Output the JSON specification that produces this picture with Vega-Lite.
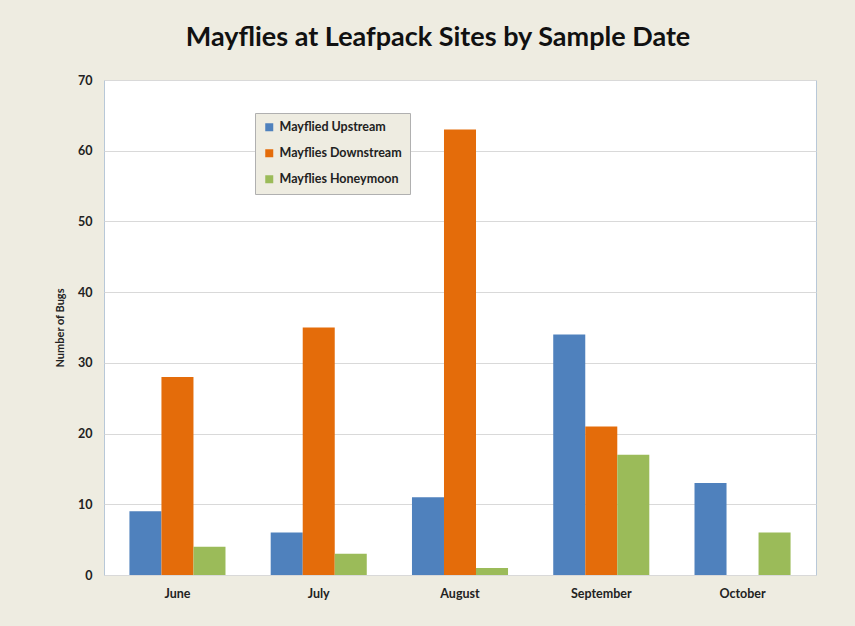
{
  "$schema": "https://vega.github.io/schema/vega-lite/v6.json",
  "autosize": {"type": "none"},
  "width": 712,
  "height": 495,
  "padding": {"left": 104, "top": 80, "right": 39, "bottom": 51},
  "background": "#EEECE1",
  "title": {
    "text": "Mayflies at Leafpack Sites by Sample Date",
    "font": "Lato",
    "fontSize": 27,
    "fontWeight": "bold",
    "color": "#111111",
    "anchor": "middle",
    "dx": -22,
    "offset": 22
  },
  "config": {
    "view": {"stroke": "#B8C8D8", "strokeWidth": 1, "fill": "white"},
    "font": "Lato"
  },
  "data": {
    "values": [
      {"month": "June", "series": "Mayflied Upstream", "bugs": 9},
      {"month": "June", "series": "Mayflies Downstream", "bugs": 28},
      {"month": "June", "series": "Mayflies Honeymoon", "bugs": 4},
      {"month": "July", "series": "Mayflied Upstream", "bugs": 6},
      {"month": "July", "series": "Mayflies Downstream", "bugs": 35},
      {"month": "July", "series": "Mayflies Honeymoon", "bugs": 3},
      {"month": "August", "series": "Mayflied Upstream", "bugs": 11},
      {"month": "August", "series": "Mayflies Downstream", "bugs": 63},
      {"month": "August", "series": "Mayflies Honeymoon", "bugs": 1},
      {"month": "September", "series": "Mayflied Upstream", "bugs": 34},
      {"month": "September", "series": "Mayflies Downstream", "bugs": 21},
      {"month": "September", "series": "Mayflies Honeymoon", "bugs": 17},
      {"month": "October", "series": "Mayflied Upstream", "bugs": 13},
      {"month": "October", "series": "Mayflies Downstream", "bugs": 0},
      {"month": "October", "series": "Mayflies Honeymoon", "bugs": 6}
    ]
  },
  "mark": {"type": "bar"},
  "encoding": {
    "x": {
      "field": "month",
      "type": "nominal",
      "sort": ["June", "July", "August", "September", "October"],
      "scale": {"paddingInner": 0.32, "paddingOuter": 0.18},
      "axis": {
        "title": null,
        "labelAngle": 0,
        "labelFontSize": 12.5,
        "labelFontWeight": "bold",
        "labelColor": "#222222",
        "labelPadding": 12,
        "ticks": false,
        "domain": false
      }
    },
    "xOffset": {
      "field": "series",
      "type": "nominal",
      "sort": ["Mayflied Upstream", "Mayflies Downstream", "Mayflies Honeymoon"],
      "scale": {"paddingInner": 0, "paddingOuter": 0}
    },
    "y": {
      "field": "bugs",
      "type": "quantitative",
      "scale": {"domain": [0, 70], "nice": false},
      "axis": {
        "title": "Number of Bugs",
        "titleFontSize": 11,
        "titleFontWeight": "bold",
        "titleColor": "#222222",
        "titlePadding": 12,
        "values": [0, 10, 20, 30, 40, 50, 60, 70],
        "labelFontSize": 12.5,
        "labelFontWeight": "bold",
        "labelColor": "#222222",
        "labelPadding": 12,
        "ticks": false,
        "domain": false,
        "gridColor": "#D9D9D9",
        "gridWidth": 1
      }
    },
    "color": {
      "field": "series",
      "type": "nominal",
      "sort": ["Mayflied Upstream", "Mayflies Downstream", "Mayflies Honeymoon"],
      "scale": {"range": ["#4F81BD", "#E46C0A", "#9BBB59"]},
      "legend": {
        "title": null,
        "orient": "none",
        "legendX": 151,
        "legendY": 33,
        "symbolType": "square",
        "symbolSize": 64,
        "symbolStrokeWidth": 0,
        "labelFontSize": 12.5,
        "labelFontWeight": "bold",
        "labelColor": "#222222",
        "rowPadding": 13,
        "padding": 8,
        "fillColor": "#EEECE1",
        "strokeColor": "#B0B0B0",
        "labelOffset": 4
      }
    }
  }
}
